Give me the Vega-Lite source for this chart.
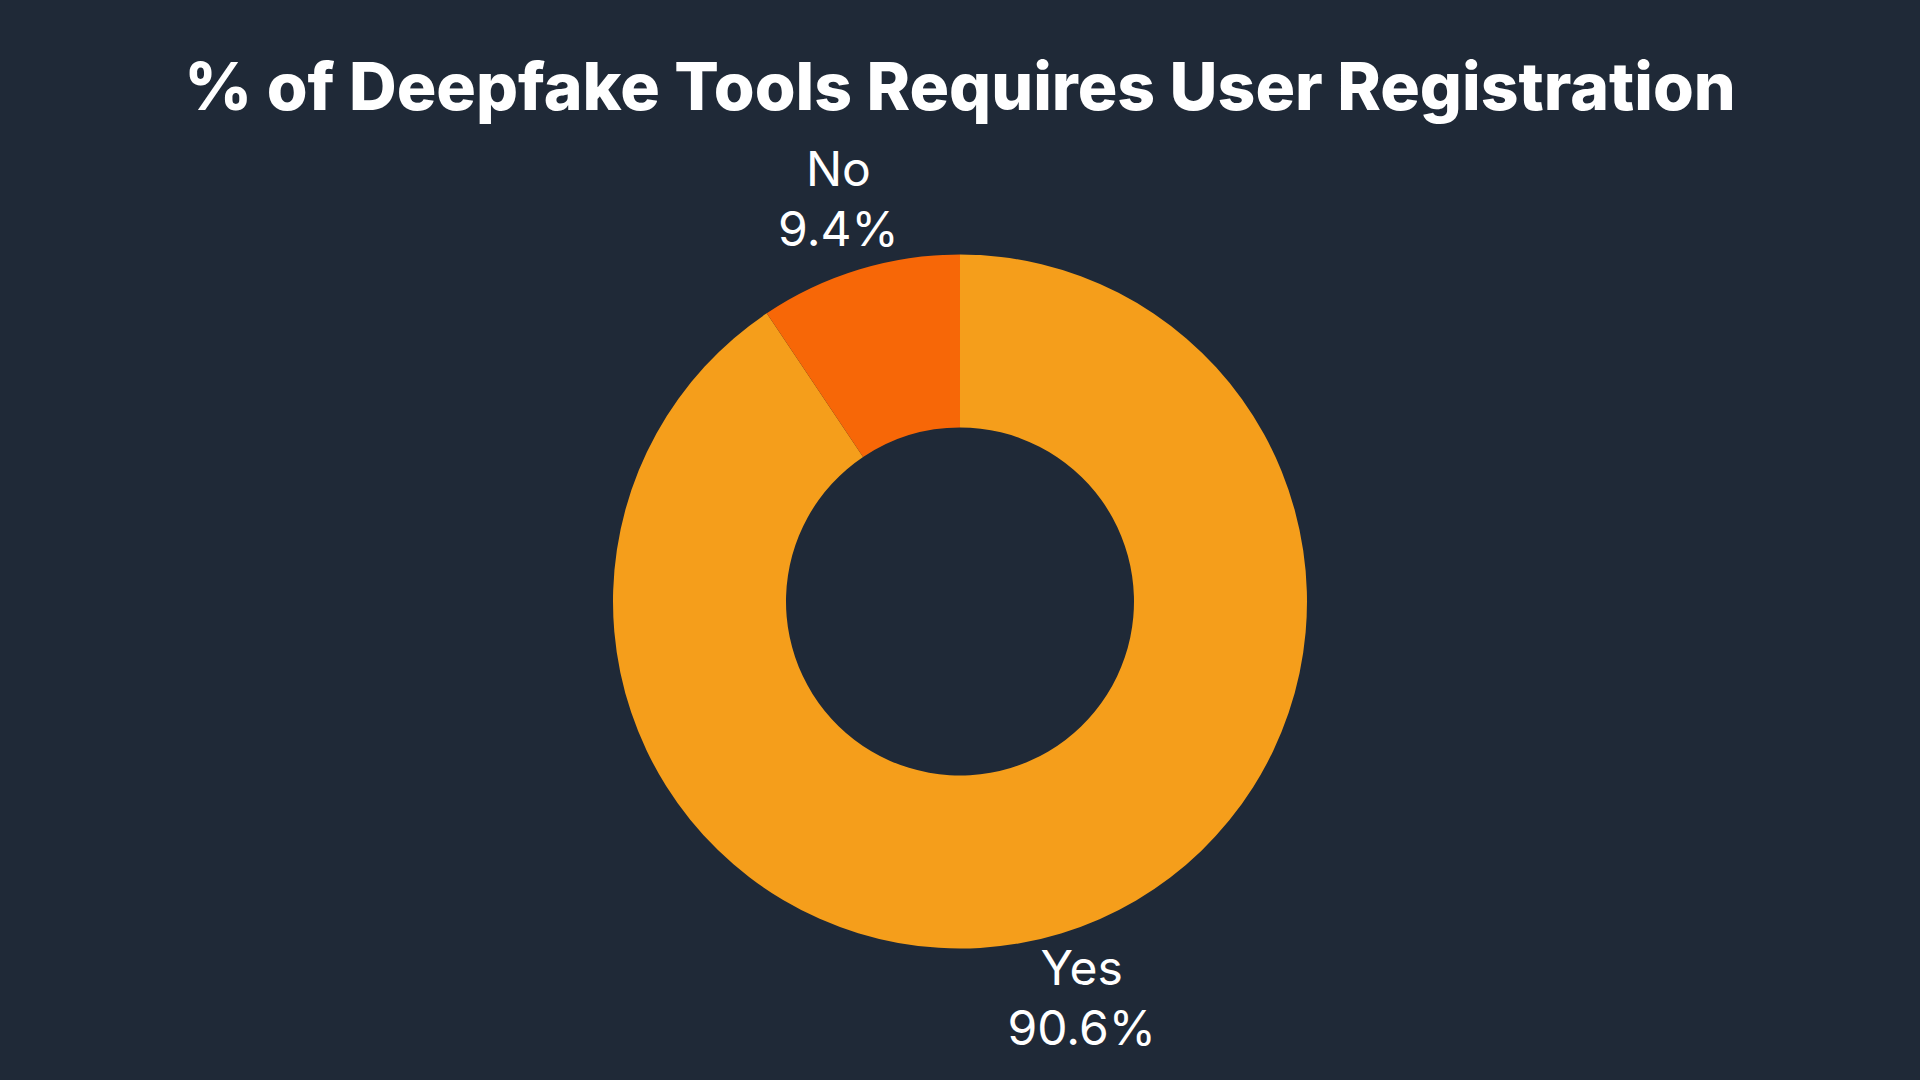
{
  "$schema": "https://vega.github.io/schema/vega-lite/v6.json",
  "width": 1920,
  "height": 1080,
  "autosize": {"type": "fit", "contains": "padding"},
  "padding": {"top": 57, "left": 0, "right": 0, "bottom": 0},
  "background": "#1f2937",
  "title": {
    "text": "% of Deepfake Tools Requires User Registration",
    "font": "Inter",
    "fontSize": 66,
    "fontWeight": 800,
    "color": "#ffffff",
    "anchor": "middle",
    "offset": -1
  },
  "data": {
    "values": [
      {"category": "Yes", "pct": 90.6, "label": "90.6%", "order": 1},
      {"category": "No", "pct": 9.4, "label": "9.4%", "order": 2}
    ]
  },
  "encoding": {
    "theta": {"field": "pct", "type": "quantitative", "stack": true},
    "order": {"field": "order", "type": "quantitative"}
  },
  "layer": [
    {
      "mark": {"type": "arc", "outerRadius": 347, "innerRadius": 174},
      "encoding": {
        "color": {
          "field": "category",
          "type": "nominal",
          "scale": {"domain": ["Yes", "No"], "range": ["#f59e1b", "#f76707"]},
          "legend": null
        }
      }
    },
    {
      "mark": {"type": "text", "radius": 418, "font": "Inter", "fontSize": 48, "color": "#ffffff", "dy": -30, "baseline": "middle", "align": "center"},
      "encoding": {"text": {"field": "category", "type": "nominal"}}
    },
    {
      "mark": {"type": "text", "radius": 418, "font": "Inter", "fontSize": 48, "color": "#ffffff", "dy": 30, "baseline": "middle", "align": "center"},
      "encoding": {"text": {"field": "label", "type": "nominal"}}
    }
  ],
  "config": {"view": {"stroke": null}}
}
